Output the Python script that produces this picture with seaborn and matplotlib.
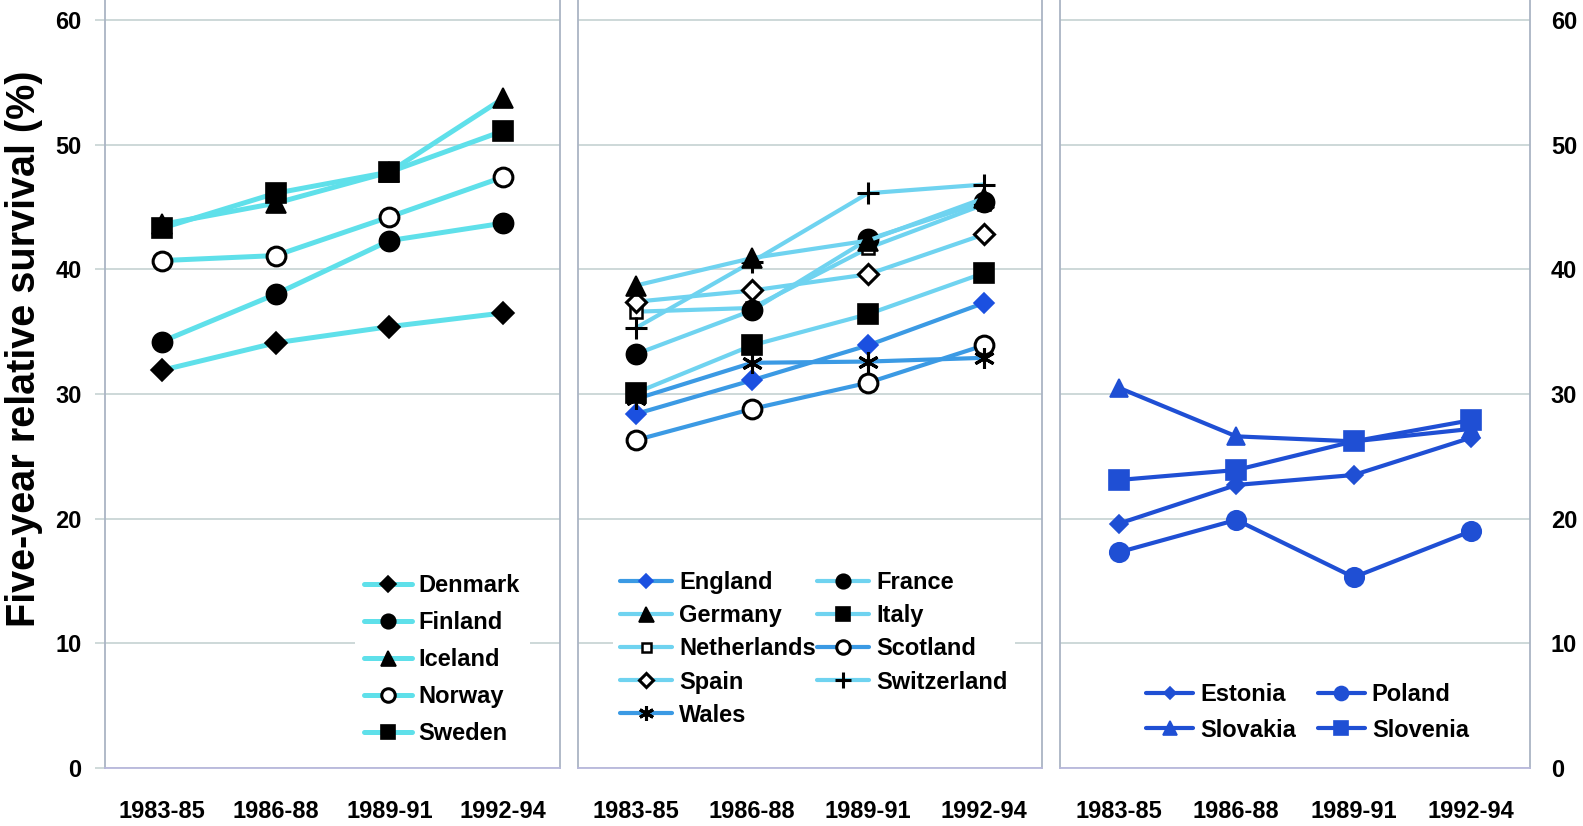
import matplotlib
matplotlib.use("Agg")
import matplotlib.pyplot as plt
import pandas as pd
import seaborn as sns

# Study periods on the x axis
periods = ["1983-85", "1986-88", "1989-91", "1992-94"]

# Five-year relative survival (%) — Nordic countries
denmark = [31.9, 34.1, 35.4, 36.5]
finland = [34.2, 38.0, 42.3, 43.7]
iceland = [43.6, 45.3, 47.8, 53.7]
norway = [40.7, 41.1, 44.2, 47.4]
sweden = [43.3, 46.1, 47.8, 51.1]

# Western Europe
england = [28.4, 31.1, 33.9, 37.3]
france = [33.2, 36.7, 42.4, 45.4]
germany = [38.7, 40.9, 42.3, 45.7]
italy = [30.1, 33.9, 36.4, 39.7]
netherlands = [36.6, 36.9, 41.7, 45.2]
scotland = [26.3, 28.8, 30.9, 33.9]
spain = [37.4, 38.3, 39.6, 42.8]
switzerland = [35.3, 40.6, 46.1, 46.8]
wales = [29.6, 32.5, 32.6, 32.9]

# Eastern Europe
estonia = [19.6, 22.7, 23.5, 26.5]
poland = [17.3, 19.9, 15.3, 19.0]
slovakia = [30.5, 26.6, 26.2, 27.2]
slovenia = [23.1, 23.9, 26.2, 27.9]

y_ticks = [0, 10, 20, 30, 40, 50, 60]
y_label = "Five-year relative survival (%)"

CYAN = "#5fe0ea"
SKY = "#6fd3f0"
MIDBLUE = "#3b9ae4"
DEEPBLUE = "#1b50e0"
ROYAL = "#1f4fd4"
BLACK = "#000000"
WHITE = "#ffffff"

sns.set_theme(style="white")
plt.rcParams["font.family"] = ["Liberation Sans", "DejaVu Sans"]
plt.rcParams["font.weight"] = "bold"
plt.rcParams["text.color"] = "black"
plt.rcParams["xtick.color"] = "black"
plt.rcParams["ytick.color"] = "black"

W, H = 1583, 826
fig = plt.figure(figsize=(W / 100, H / 100), dpi=100)
fig.patch.set_facecolor("white")

bottom = (H - 768) / H
height = 1 - bottom
panels = [(105, 560), (578, 1042), (1060, 1530)]
axes = [fig.add_axes([l / W, bottom, (r - l) / W, height]) for l, r in panels]


def draw(ax, values, label, line_color, marker, size, face, edge, lw, mew=1.2):
    df = pd.DataFrame({"period": periods, "survival": values})
    sns.lineplot(
        data=df, x="period", y="survival", ax=ax, errorbar=None,
        color=line_color, lw=lw, marker=marker, markersize=size,
        markerfacecolor=face, markeredgecolor=edge, markeredgewidth=mew,
        label=label,
    )


ax1, ax2, ax3 = axes

# Nordic panel
draw(ax1, denmark, "Denmark", CYAN, "D", 11, BLACK, BLACK, 3.6)
draw(ax1, finland, "Finland", CYAN, "o", 14.5, BLACK, BLACK, 3.6)
draw(ax1, iceland, "Iceland", CYAN, "^", 15, BLACK, BLACK, 3.6)
draw(ax1, norway, "Norway", CYAN, "o", 13.5, WHITE, BLACK, 3.6, mew=2.2)
draw(ax1, sweden, "Sweden", CYAN, "s", 14.5, BLACK, BLACK, 3.6)

# Western panel (drawing order sets which marker sits on top)
draw(ax2, england, "England", MIDBLUE, "D", 10, DEEPBLUE, DEEPBLUE, 3.0)
draw(ax2, netherlands, "Netherlands", SKY, "s", 9, WHITE, BLACK, 3.0, mew=1.8)
draw(ax2, scotland, "Scotland", MIDBLUE, "o", 13.5, WHITE, BLACK, 3.0, mew=2.2)
draw(ax2, spain, "Spain", SKY, "D", 10, WHITE, BLACK, 3.0, mew=2.2)
draw(ax2, switzerland, "Switzerland", SKY, "+", 16, BLACK, BLACK, 3.0, mew=2.2)
draw(ax2, wales, "Wales", MIDBLUE, (6, 2, 0), 15, BLACK, BLACK, 3.0, mew=2.2)
draw(ax2, italy, "Italy", SKY, "s", 14.5, BLACK, BLACK, 3.0)
draw(ax2, france, "France", SKY, "o", 14.5, BLACK, BLACK, 3.0)
draw(ax2, germany, "Germany", SKY, "^", 15, BLACK, BLACK, 3.0)

# Eastern panel
draw(ax3, estonia, "Estonia", ROYAL, "D", 9, ROYAL, ROYAL, 3.0)
draw(ax3, poland, "Poland", ROYAL, "o", 14, ROYAL, ROYAL, 3.0)
draw(ax3, slovakia, "Slovakia", ROYAL, "^", 13.5, ROYAL, ROYAL, 3.0)
draw(ax3, slovenia, "Slovenia", ROYAL, "s", 14, ROYAL, ROYAL, 3.0)

for ax in axes:
    ax.set_xlim(-0.5, 3.5)
    ax.set_ylim(0, 61.6)
    ax.set_yticks(y_ticks)
    ax.set_xticks(range(len(periods)))
    ax.set_xticklabels(periods, fontsize=17, fontweight="bold")
    ax.set_xticks([0.5, 1.5, 2.5], minor=True)
    ax.tick_params(axis="x", which="major", length=0, pad=23)
    ax.tick_params(axis="x", which="minor", direction="in", length=5,
                   color="#b8b8dc", width=1.2)
    ax.set_xlabel("")
    ax.set_ylabel("")
    ax.yaxis.grid(True, color="#c9d5d5", lw=1.3)
    ax.set_axisbelow(True)
    ax.spines["top"].set_visible(False)
    for side in ("left", "right"):
        ax.spines[side].set_visible(True)
        ax.spines[side].set_color("#aab4c4")
        ax.spines[side].set_linewidth(1.3)
    ax.spines["bottom"].set_color("#b8b8dc")
    ax.spines["bottom"].set_linewidth(1.3)
    ax.set_facecolor("white")
    if ax.get_legend() is not None:
        ax.get_legend().remove()

ax1.tick_params(axis="y", which="major", left=True, length=7, color="#c9d5d5",
                pad=10, labelsize=17)
for t in ax1.get_yticklabels():
    t.set_fontweight("bold")
ax2.tick_params(axis="y", left=False, labelleft=False)
ax3.tick_params(axis="y", left=False, labelleft=False, right=False,
                labelright=True, pad=9, labelsize=17)
for t in ax3.get_yticklabels():
    t.set_fontweight("bold")

fig.text(24 / W, 1 - 349 / H, y_label, rotation=90, ha="center", va="center",
         fontsize=28.5, fontweight="bold")

legend_kw = dict(
    frameon=True, fancybox=False, framealpha=1, facecolor="white",
    edgecolor="none", borderaxespad=0,
    handletextpad=0.3, numpoints=1, markerscale=0.72,
    prop={"weight": "bold", "size": 17},
    bbox_transform=fig.transFigure, loc="upper left",
)


def ordered(ax, names):
    handles, labels = ax.get_legend_handles_labels()
    lookup = dict(zip(labels, handles))
    return [lookup[n] for n in names], names


h, l = ordered(ax1, ["Denmark", "Finland", "Iceland", "Norway", "Sweden"])
ax1.legend(h, l, bbox_to_anchor=(355 / W, 1 - 565 / H), labelspacing=0.59,
           borderpad=0.4, handlelength=2.0, **legend_kw)

h, l = ordered(ax2, ["England", "Germany", "Netherlands", "Spain", "Wales",
                     "France", "Italy", "Scotland", "Switzerland"])
ax2.legend(h, l, ncol=2, bbox_to_anchor=(613 / W, 1 - 564 / H),
           labelspacing=0.43, columnspacing=0.05, borderpad=0.3,
           handlelength=2.2, **legend_kw)

h, l = ordered(ax3, ["Estonia", "Slovakia", "Poland", "Slovenia"])
ax3.legend(h, l, ncol=2, bbox_to_anchor=(1139 / W, 1 - 676 / H),
           labelspacing=0.53, columnspacing=0.9, borderpad=0.3,
           handlelength=2.0, **legend_kw)

fig.savefig("out.png", dpi=100, facecolor="white")
